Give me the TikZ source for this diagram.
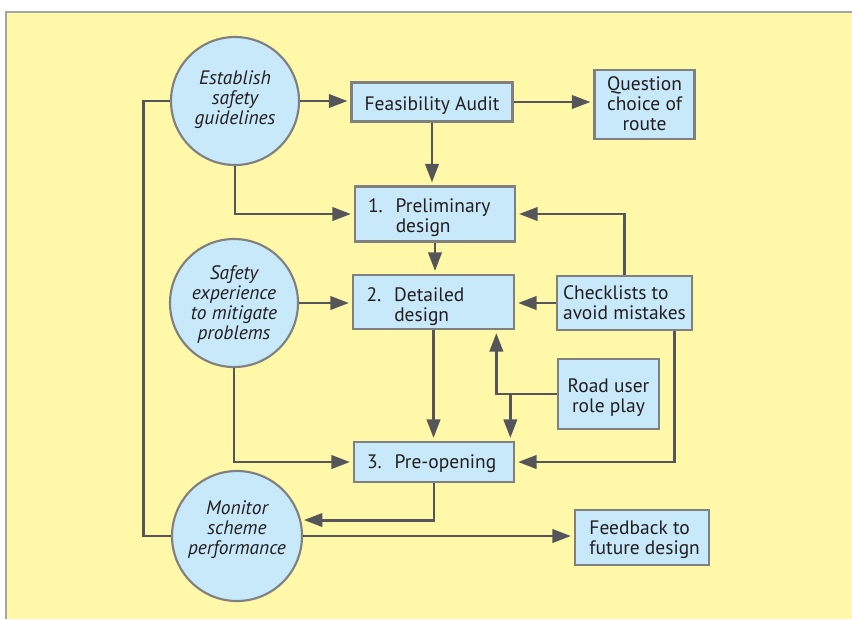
\documentclass[tikz,border=0pt]{standalone}
\usepackage{fontspec}
\setmainfont{PT Sans}
\usetikzlibrary{arrows.meta,calc}
\definecolor{bgyellow}{RGB}{255,248,168}
\definecolor{nodeblue}{RGB}{199,233,250}
\definecolor{edgegray}{RGB}{128,128,128}
\definecolor{framegray}{RGB}{165,165,165}
\definecolor{arrgray}{RGB}{85,86,90}
\definecolor{txt}{RGB}{35,31,32}
\newcommand{\ntext}[3]{\raisebox{#1}[\height][\depth]{\begin{tabular}{@{}#2@{}}#3\end{tabular}}}
\begin{document}
\begin{tikzpicture}[x=0.75pt,y=-0.75pt,
  box/.style={draw=edgegray, fill=nodeblue, line width=2pt, inner sep=0pt, align=center, font=\fontsize{14.6}{15}\selectfont, text=txt},
  numbox/.style={box, text width=100.5pt, align=left},
  circ/.style={circle, draw=edgegray, fill=nodeblue, line width=1.6pt, inner sep=0pt, minimum size=96pt, align=center, font=\fontsize{14.6}{15}\selectfont\itshape, text=txt},
  conn/.style={draw=arrgray, line width=2.2pt},
  arr/.style={conn, -{Triangle[length=14pt,width=10pt]}, shorten >=2pt}
]
% background
\useasboundingbox (0,0) rectangle (852,619);
\fill[white] (0,0) rectangle (852,619);
\fill[bgyellow] (6,12) rectangle (852,619);
\draw[framegray, line width=1.5pt] (6,619) -- (6,12) -- (852,12);

% circles
\node[circ] (est) at (235,101) {\ntext{0.5pt}{c}{Establish\\safety\\guidelines}};
\node[circ] (safe) at (234,303) {\ntext{-1.7pt}{c}{Safety\\experience\\to mitigate\\problems}};
\node[circ, minimum size=97.5pt] (mon) at (237,536) {\ntext{3.9pt}{c}{Monitor\\scheme\\performance}};

% boxes
\node[box, minimum width=120.75pt, minimum height=29.25pt] (feas) at (432,102) {\ntext{-3.6pt}{c}{Feasibility Audit}};
\node[box, minimum width=75pt, minimum height=51.75pt] (quest) at (644.5,104.5) {\ntext{-1.5pt}{c}{Question\\choice of\\route}};
\node[numbox, minimum width=120pt, minimum height=41.25pt] (prelim) at (435,214) {\ntext{-3.6pt}{l}{1.\ \ Preliminary\\\hphantom{1.\ \ }design}};
\node[numbox, minimum width=120.75pt, minimum height=40.5pt] (det) at (433.5,302) {\ntext{-4.3pt}{l}{2.\ \ Detailed\\\hphantom{2.\ \ }design}};
\node[box, minimum width=101.25pt, minimum height=40.5pt] (check) at (624.5,303) {\ntext{-1.5pt}{l}{Checklists to\\avoid mistakes}};
\node[box, minimum width=75.75pt, minimum height=52.5pt] (road) at (608.5,394) {\ntext{-3.6pt}{c}{Road user\\role play}};
\node[numbox, minimum width=120pt, minimum height=30pt] (preop) at (434,462) {\ntext{-2.1pt}{l}{3.\ \ Pre-opening}};
\node[box, minimum width=100.5pt, minimum height=41.25pt] (fb) at (642,537.5) {\ntext{-2.1pt}{@{\hspace{4pt}}l}{Feedback to\\future design}};

% connectors
\draw[arr] (est.east) -- (est.east -| feas.west);
\draw[arr] (est.south) |- (prelim.west);
\draw[arr] (feas.south) -- (feas.south |- prelim.north);
\draw[arr] (feas.east) -- (feas.east -| quest.west);
\draw[arr] (prelim.south) -- (prelim.south |- det.north);
\draw[arr] (check.north) |- (prelim.east);
\draw[arr] (check.west) -- (check.west -| det.east);
\coordinate (cd) at ($(check.south east)+(-19,0)$);
\draw[arr] (cd) |- (preop.east);
\draw[arr] (safe.east) -- (safe.east -| det.west);
\draw[arr] (safe.south) |- (preop.west);
\draw[arr] (det.south) -- (det.south |- preop.north);
\coordinate (ru) at ($(det.south east)+(-19,0)$);
\draw[arr] (road.west) -| (ru);
\coordinate (rd) at ($(preop.north east)+(-5,0)$);
\draw[arr] (rd |- road.west) -- (rd);
\draw[arr] (preop.south) |- (mon.14);
\draw[arr] (mon.east) -- (mon.east -| fb.west);
\draw[conn] (mon.west) -- ++(-27,0) |- (est.west);
\end{tikzpicture}
\end{document}
